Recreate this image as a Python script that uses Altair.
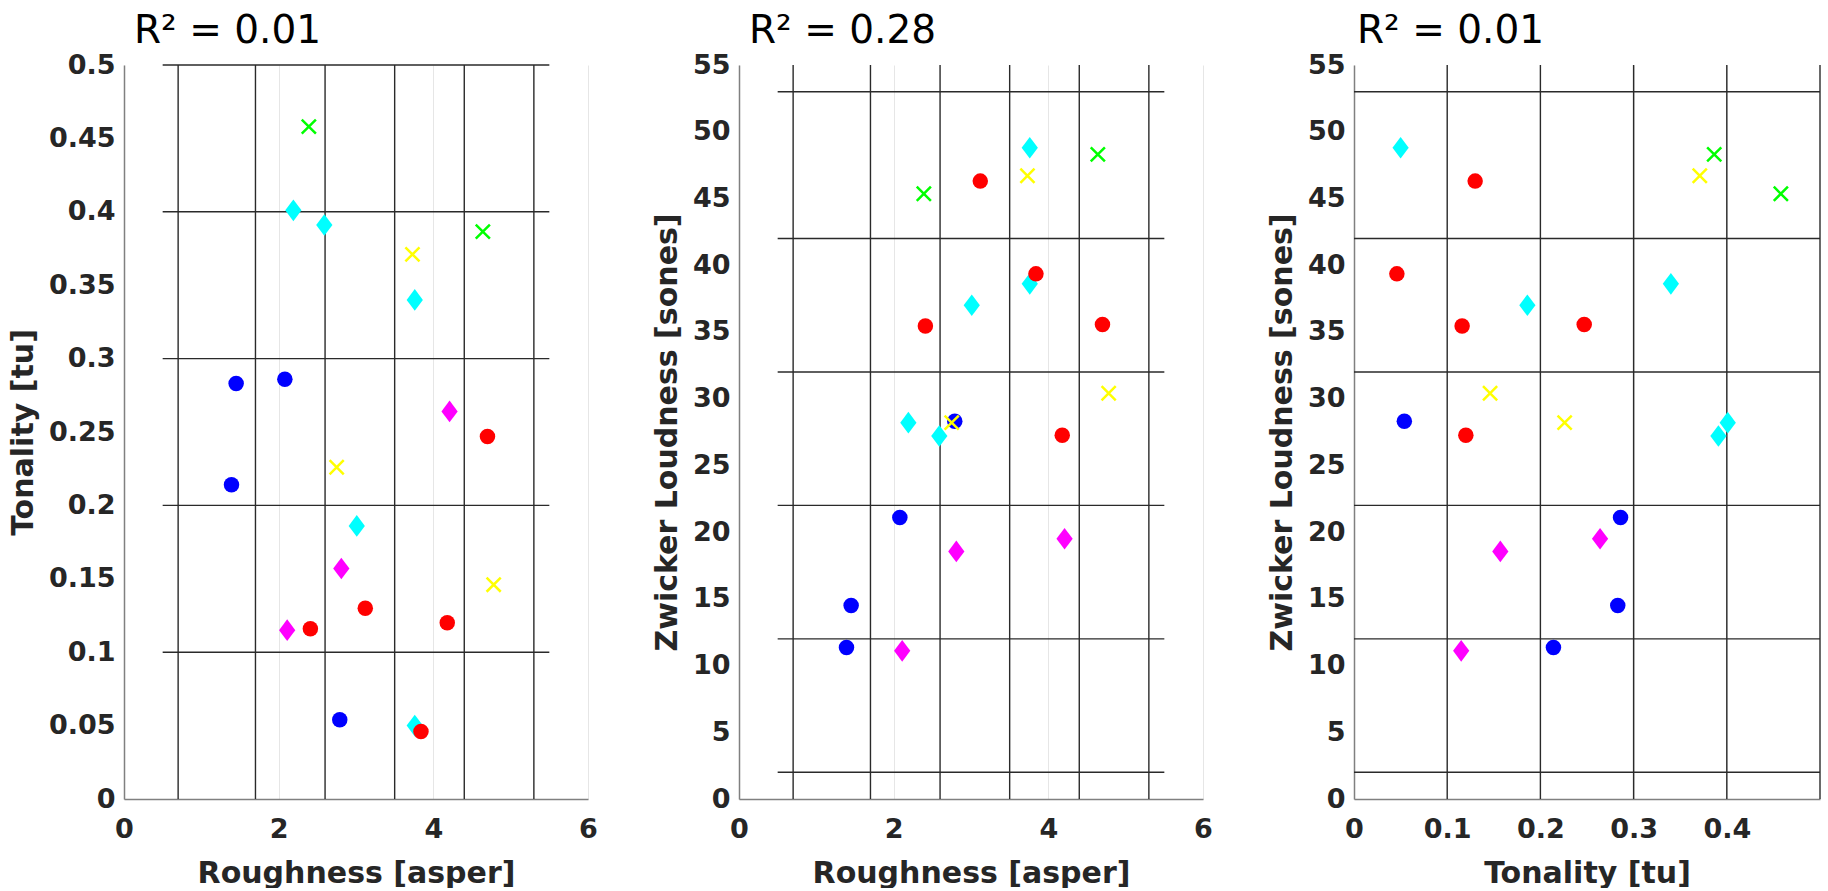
import altair as alt
import pandas as pd

# ---- data ----
groups = ["blue"] * 4 + ["cyan"] * 5 + ["magenta"] * 3 + ["red"] * 5 + ["yellow"] * 3 + ["green"] * 2
markers = ["circle"] * 4 + ["diamond"] * 5 + ["diamond"] * 3 + ["circle"] * 5 + ["cross"] * 3 + ["cross"] * 2
roughness = [1.45, 1.39, 2.08, 2.79,
             3.76, 3.76, 3.01, 2.19, 2.59,
             2.81, 4.21, 2.11,
             3.12, 3.84, 2.41, 4.70, 4.18,
             3.73, 4.78, 2.75,
             2.39, 4.64]
tonality = [0.283, 0.214, 0.286, 0.054,
            0.050, 0.340, 0.186, 0.401, 0.391,
            0.157, 0.264, 0.115,
            0.130, 0.046, 0.116, 0.247, 0.120,
            0.371, 0.146, 0.226,
            0.458, 0.3865]
loudness = [14.5, 11.35, 21.1, 28.3,
            48.8, 38.6, 37.0, 28.2, 27.2,
            18.55, 19.5, 11.1,
            46.3, 39.35, 35.45, 35.55, 27.25,
            46.7, 30.4, 28.2,
            45.35, 48.3]

group_names = ["blue", "cyan", "magenta", "red", "yellow", "green"]
group_colors = ["#0000FF", "#00FFFF", "#FF00FF", "#FF0000", "#FFFF00", "#00FF00"]

roughness_bounds = [0.7, 1.7, 2.6, 3.5, 4.4, 5.3]
tonality_bounds = [0.1, 0.2, 0.3, 0.4, 0.5]
loudness_bounds = [2, 12, 22, 32, 42, 53]

r2_values = ["0.01", "0.28", "0.01"]

roughness_ticks = [0, 2, 4, 6]
tonality_ticks_y = [0, 0.05, 0.1, 0.15, 0.2, 0.25, 0.3, 0.35, 0.4, 0.45, 0.5]
tonality_ticks_x = [0, 0.1, 0.2, 0.3, 0.4]
loudness_ticks = [0, 5, 10, 15, 20, 25, 30, 35, 40, 45, 50, 55]

df = pd.DataFrame({
    "group": groups,
    "marker": markers,
    "Roughness": roughness,
    "Tonality": tonality,
    "Loudness": loudness,
})

DIAMOND = "M0,-1L0.75,0L0,1L-0.75,0Z"
CROSS = "M-1,-1L1,1M-1,1L1,-1"
LINE_COLOR = "#2a2a2a"
FONT = "DejaVu Sans"


def panel(xf, yf, xdom, ydom, xticks, yticks, xtitle, ytitle,
          vlines, hlines, hspan, r2, dx, w):
    xs = alt.Scale(domain=xdom, nice=False, zero=False)
    ys = alt.Scale(domain=ydom, nice=False, zero=False)
    xax = alt.Axis(values=xticks, title=xtitle, format="~g")
    yax = alt.Axis(values=yticks, title=ytitle, format="~g")

    vr = alt.Chart(pd.DataFrame({"v": vlines})).mark_rule(
        color=LINE_COLOR, strokeWidth=1.4
    ).encode(
        x=alt.X("v:Q", scale=xs, axis=xax),
        y=alt.YDatum(ydom[0], scale=ys, axis=yax),
        y2=alt.Y2Datum(ydom[1]),
    )
    hr = alt.Chart(pd.DataFrame({"h": hlines})).mark_rule(
        color=LINE_COLOR, strokeWidth=1.4
    ).encode(
        y=alt.Y("h:Q", scale=ys, axis=yax),
        x=alt.XDatum(hspan[0], scale=xs, axis=xax),
        x2=alt.X2Datum(hspan[1]),
    )
    base = alt.Chart(df).encode(
        x=alt.X(f"{xf}:Q", scale=xs, axis=xax),
        y=alt.Y(f"{yf}:Q", scale=ys, axis=yax),
        color=alt.Color("group:N", scale=alt.Scale(domain=group_names, range=group_colors), legend=None),
    )
    diamonds = base.transform_filter(alt.datum.marker == "diamond").mark_point(
        shape=DIAMOND, filled=True, size=470, opacity=1)
    circles = base.transform_filter(alt.datum.marker == "circle").mark_point(
        shape="circle", filled=True, size=240, opacity=1)
    crosses = base.transform_filter(alt.datum.marker == "cross").mark_point(
        shape=CROSS, filled=False, size=200, strokeWidth=2.5, opacity=1)

    return alt.layer(vr, hr, diamonds, circles, crosses).properties(
        width=w, height=734,
        title=alt.TitleParams(
            text=f"R\u00b2 = {r2}", anchor="start", frame="group", dx=dx,
            font=FONT, fontSize=39, fontWeight="normal", color="#000000", offset=0,
        ),
    )


p1 = panel("Roughness", "Tonality", [0, 6], [0, 0.5], roughness_ticks, tonality_ticks_y,
           "Roughness [asper]", "Tonality [tu]", roughness_bounds, tonality_bounds, [0.5, 5.5],
           r2_values[0], 10, 464)
p2 = panel("Roughness", "Loudness", [0, 6], [0, 55], roughness_ticks, loudness_ticks,
           "Roughness [asper]", "Zwicker Loudness [sones]", roughness_bounds, loudness_bounds, [0.5, 5.5],
           r2_values[1], 10, 464)
p3 = panel("Tonality", "Loudness", [0, 0.5], [0, 55], tonality_ticks_x, loudness_ticks,
           "Tonality [tu]", "Zwicker Loudness [sones]", tonality_bounds, loudness_bounds, [0, 0.5],
           r2_values[2], 3, 466)

chart = alt.hconcat(p1, p2, p3, spacing=54).properties(
    padding={"left": 8, "top": 12, "right": 0, "bottom": 0},
    background="white",
).configure_view(stroke=None).configure_axis(
    labelFont=FONT, labelFontSize=27, labelFontWeight="bold", labelColor="#262626",
    titleFont=FONT, titleFontSize=30, titleFontWeight="bold", titleColor="#262626",
    gridColor="#e6e6e6", gridWidth=1, domainColor="#808080", domainWidth=1.5,
    ticks=False, labelFlush=False, labelOverlap=False,
).configure_axisX(
    labelPadding=17, titlePadding=16,
).configure_axisY(
    labelPadding=9, titlePadding=10,
)

chart.save("out.html", embed_options={"renderer": "svg", "actions": False})
